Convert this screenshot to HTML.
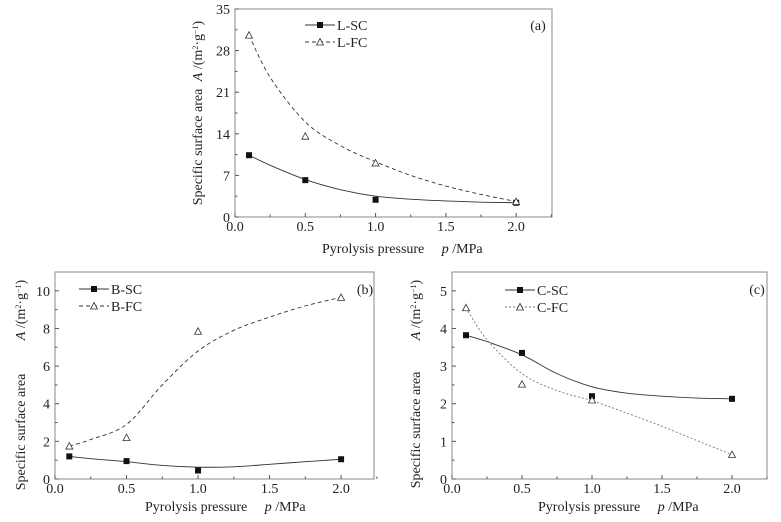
<!DOCTYPE html>
<html><head><meta charset="utf-8"><style>
body{margin:0;background:#fff}
svg{display:block;font-family:"Liberation Serif",serif}
</style></head><body>
<svg id="c" width="781" height="522" viewBox="0 0 781 522"></svg>
<script>
const xCats=[0.1,0.5,1.0,2.0];
const fitX=[0.1,0.25,0.5,0.75,1,1.25,1.5,1.75,2];
const lsc=[10.4,6.2,2.9,2.4];
const lfc=[30.6,13.6,9.1,2.6];
const lscFit=[10.4,8.7,6.3,4.6,3.5,3.0,2.7,2.5,2.4];
const lfcFit=[30.6,23.5,16,12,9.3,7,5.2,3.8,2.6];
const bsc=[1.2,0.95,0.45,1.05];
const bfc=[1.75,2.2,7.85,9.65];
const bscFit=[1.2,1.08,0.92,0.72,0.63,0.65,0.78,0.92,1.05];
const bfcFit=[1.75,2.1,2.9,5.0,6.8,7.9,8.6,9.2,9.65];
const csc=[3.82,3.35,2.2,2.13];
const cfc=[4.55,2.52,2.1,0.65];
const cscFit=[3.82,3.65,3.3,2.8,2.45,2.28,2.2,2.15,2.13];
const cfcFit=[4.55,3.7,2.8,2.35,2.08,1.75,1.4,1.02,0.65];
const xTicks=["0.0","0.5","1.0","1.5","2.0"];
const aTicks=[0,7,14,21,28,35];
const bTicks=[0,2,4,6,8,10];
const cTicks=[0,1,2,3,4,5];

const svg=document.getElementById('c');
const NS='http://www.w3.org/2000/svg';
function mk(t,a,p){const e=document.createElementNS(NS,t);for(const k in a)e.setAttribute(k,a[k]);(p||svg).appendChild(e);return e;}

function panel(o){
  const g=mk('g',{});
  
  
  const sx=v=>o.x0+(v/o.xmax)*(o.x1-o.x0);
  const sy=v=>o.y0-(v/o.ymax)*(o.y0-o.y1);
  const box=mk('rect',{x:o.x0,y:o.y1,width:o.x1-o.x0,height:o.y0-o.y1,fill:'none',stroke:'#888','stroke-width':1},g);
  
  
  xTicks.forEach((t,i)=>{
    const v=i*0.5;
    mk('line',{x1:sx(v),x2:sx(v),y1:o.y0,y2:o.y0-4,stroke:'#555'},g);
    mk('line',{x1:sx(v+0.25),x2:sx(v+0.25),y1:o.y0,y2:o.y0-2.5,stroke:'#555'},g);
    const tx=mk('text',{x:sx(v),y:o.y0+14,'text-anchor':'middle','font-size':14,fill:'#222'},g);
    tx.textContent=t;
    
    
  });
  o.yt.forEach((v,i)=>{
    mk('line',{x1:o.x0,x2:o.x0+4,y1:sy(v),y2:sy(v),stroke:'#555'},g);
    if(i<o.yt.length-1){const m=(v+o.yt[i+1])/2;mk('line',{x1:o.x0,x2:o.x0+2.5,y1:sy(m),y2:sy(m),stroke:'#555'},g);}
    const tx=mk('text',{x:o.x0-5,y:sy(v)+5,'text-anchor':'end','font-size':14,fill:'#222'},g);
    tx.textContent=v;
    
    
  });
  function curve(vals,dash,name,col){
    const pts=fitX.map((x,i)=>[sx(x),sy(vals[i])]);
    let d='M'+pts[0][0]+','+pts[0][1];
    for(let i=0;i<pts.length-1;i++){
      const p0=pts[Math.max(0,i-1)],p1=pts[i],p2=pts[i+1],p3=pts[Math.min(pts.length-1,i+2)];
      d+=' C'+(p1[0]+(p2[0]-p0[0])/6)+','+(p1[1]+(p2[1]-p0[1])/6)+' '+(p2[0]-(p3[0]-p1[0])/6)+','+(p2[1]-(p3[1]-p1[1])/6)+' '+p2[0]+','+p2[1];
    }
    const p=mk('path',{d:d,fill:'none',stroke:col,'stroke-width':0.9,'stroke-dasharray':dash},g);
    
    
  }
  function sq(x,y,p){const r=mk('rect',{x:x-3,y:y-3,width:6,height:6,fill:'#111'},p);return r;}
  function tri(x,y,p){return mk('path',{d:`M${x},${y-3.5} L${x+3.5},${y+3} L${x-3.5},${y+3} Z`,fill:'#fff',stroke:'#333','stroke-width':0.8},p);}
  curve(o.sFit,'',o.sName+'-fit-line','#333');
  curve(o.fFit,o.fDash,o.fName+'-fit-line',o.fCol);
  xCats.forEach((x,i)=>{
    const a=sq(sx(x),sy(o.s[i]),g);
    
    
    const b=tri(sx(x),sy(o.f[i]),g);
    
    
  });
  const L=o.leg;
  mk('line',{x1:L[0],x2:L[0]+30,y1:L[1],y2:L[1],stroke:'#333','stroke-width':0.9},g);
  const ls=sq(L[0]+15,L[1],g);
  
  
  mk('line',{x1:L[0],x2:L[0]+30,y1:L[1]+17,y2:L[1]+17,stroke:o.fCol,'stroke-width':0.9,'stroke-dasharray':o.fDash},g);
  const lf=tri(L[0]+15,L[1]+17,g);
  
  
  [[o.sLab,0],[o.fLab,17]].forEach(([t,dy])=>{
    const tx=mk('text',{x:L[0]+32,y:L[1]+dy+5,'font-size':14,fill:'#222'},g);
    tx.textContent=t;
    
    
  });
  const pl=mk('text',{x:o.pl[0],y:o.pl[1],'text-anchor':'middle','font-size':14,fill:'#222'},g);
  pl.textContent=o.tag;
  
  
  const xt=mk('text',{x:o.xt[0],y:o.xt[1],'font-size':14,fill:'#222'},g);
  xt.innerHTML='Pyrolysis pressure <tspan dx="14" font-style="italic">p</tspan> /MPa';
  
  
  const yt=mk('text',{transform:`translate(${o.yx},${o.yc}) rotate(-90)`,'text-anchor':'middle','font-size':14,fill:'#222'},g);
  yt.textContent='Specific surface area';
  
  
  const yu=mk('text',{transform:`translate(${o.yx},${o.yu}) rotate(-90)`,'text-anchor':'middle','font-size':14,fill:'#222'},g);
  yu.innerHTML='<tspan font-style="italic">A</tspan> /(m<tspan dy="-4" font-size="8">2</tspan><tspan dy="4">·g</tspan><tspan dy="-4" font-size="8">−1</tspan><tspan dy="4">)</tspan>';
  
  
}
panel({name:'panel-a',x0:235,x1:552,y0:217,y1:9,xmax:2.255,ymax:35,yt:aTicks,s:lsc,f:lfc,sFit:lscFit,fFit:lfcFit,sName:'l-sc',fName:'l-fc',sLab:'L-SC',fLab:'L-FC',fDash:'4,3',fCol:'#333',leg:[305,25],pl:[538,30],tag:'(a)',xt:[322,253],yx:202,yc:147,yu:51});
panel({name:'panel-b',x0:55,x1:374,y0:479,y1:272,xmax:2.23,ymax:11,yt:bTicks,s:bsc,f:bfc,sFit:bscFit,fFit:bfcFit,sName:'b-sc',fName:'b-fc',sLab:'B-SC',fLab:'B-FC',fDash:'4,3',fCol:'#333',leg:[79,289],pl:[365,294],tag:'(b)',xt:[145,511],yx:25,yc:432,yu:310});
panel({name:'panel-c',x0:452,x1:767,y0:479,y1:272,xmax:2.25,ymax:5.5,yt:cTicks,s:csc,f:cfc,sFit:cscFit,fFit:cfcFit,sName:'c-sc',fName:'c-fc',sLab:'C-SC',fLab:'C-FC',fDash:'2,2',fCol:'#777',leg:[505,290],pl:[757,294],tag:'(c)',xt:[538,511],yx:420,yc:430,yu:310});
</script>
</body></html>
